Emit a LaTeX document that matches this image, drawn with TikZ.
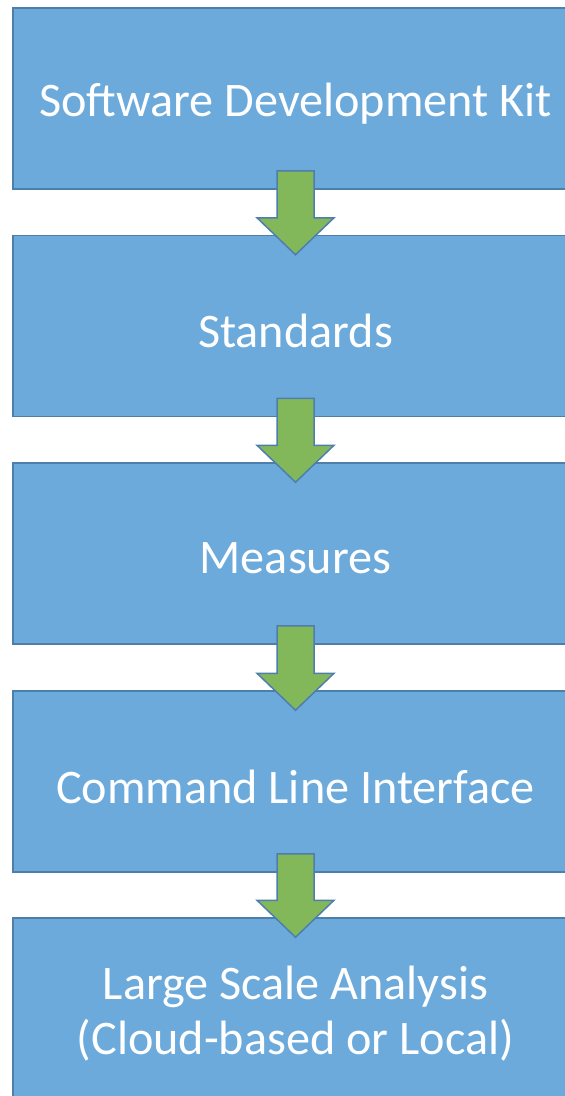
\documentclass[tikz,border=0pt]{standalone}
\usepackage{fontspec}
\setmainfont{Carlito}
\usetikzlibrary{calc}
\definecolor{boxfill}{HTML}{6DAADC}
\definecolor{boxline}{HTML}{4E7FAA}
\definecolor{arrowfill}{HTML}{83B85A}
\definecolor{arrowline}{HTML}{4D7EAE}
\tikzset{
  stage/.style={draw=boxline, fill=boxfill, line width=1.5pt, minimum width=565pt,
    minimum height=181pt, inner sep=0pt},
  stagetext/.style={align=center, text=white, inner sep=0pt, yshift=-5pt,
    font=\fontsize{48.2}{55}\selectfont},
  flowarrow/.style={draw=arrowline, fill=arrowfill, line width=1.5pt, line join=miter},
}
\begin{document}
\begin{tikzpicture}[x=1pt, y=-1pt]
  \useasboundingbox (0,0) rectangle (565,1096);
  \begin{scope}
    \clip (0,0) rectangle (565,1096);
    \node[stage, label={[stagetext]center:Software Development Kit}] (sdk) at (295.5,98.5) {};
    \node[stage, label={[stagetext]center:Standards}] (std) at (295.5,326) {};
    \node[stage, label={[stagetext]center:Measures}] (meas) at (295.5,553.5) {};
    \node[stage, label={[stagetext]center:Command Line Interface}] (cli) at (295.5,781.5) {};
    \node[stage, label={[stagetext]center:Large Scale Analysis\\(Cloud-based or Local)}] (lsa) at (295.5,1008.5) {};
    % block arrows between consecutive stages
    \foreach \a/\b in {sdk/std, std/meas, meas/cli, cli/lsa} {
      \draw[flowarrow]
        ($(\a.south)+(-18.5,-19)$) -- ($(\a.south)+(18.5,-19)$)
        -- ($(\b.north)+(18.5,-17)$) -- ($(\b.north)+(38.5,-17)$)
        -- ($(\b.north)+(0,20)$)
        -- ($(\b.north)+(-38.5,-17)$) -- ($(\b.north)+(-18.5,-17)$) -- cycle;
    }
  \end{scope}
\end{tikzpicture}
\end{document}
